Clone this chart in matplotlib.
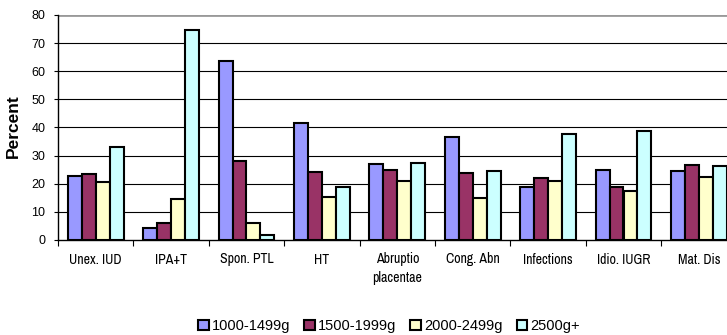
import matplotlib
matplotlib.use("Agg")
import matplotlib.pyplot as plt
import numpy as np

categories = ["Unex. IUD", "IPA+T", "Spon. PTL", "HT", "Abruptio\nplacentae",
              "Cong. Abn", "Infections", "Idio. IUGR", "Mat. Dis"]
series_names = ["1000-1499g", "1500-1999g", "2000-2499g", "2500g+"]
w1000 = [22.9, 4.1, 63.5, 41.7, 27.0, 36.6, 19.0, 24.9, 24.4]
w1500 = [23.5, 6.0, 28.1, 24.1, 24.8, 23.7, 22.2, 18.7, 26.7]
w2000 = [20.5, 14.5, 6.2, 15.3, 20.9, 15.0, 20.9, 17.4, 22.4]
w2500 = [33.1, 74.8, 1.9, 18.7, 27.3, 24.6, 37.7, 38.9, 26.3]
y_ticks = [0, 10, 20, 30, 40, 50, 60, 70, 80]

colors = ["#9999FF", "#993366", "#FFFFCC", "#CCFFFF"]
base_font = "Liberation Sans"
narrow_font = ["Archivo Narrow", "Liberation Sans"]

W, H = 727, 335
fig = plt.figure(figsize=(W / 100, H / 100), dpi=100)
ax = fig.add_axes([58 / W, 1 - 240 / H, (736.6 - 58) / W, 225 / H])

x = np.arange(len(categories))
bw = 0.185
for i, (vals, c, name) in enumerate(zip([w1000, w1500, w2000, w2500], colors, series_names)):
    ax.bar(x + (i - 1.5) * bw, vals, width=bw, color=c, edgecolor="black",
           linewidth=1.5, label=name, zorder=3)

ax.set_xlim(-0.5, len(categories) - 0.5)
ax.set_ylim(0, 80)
ax.set_yticks(y_ticks)
ax.set_yticklabels([str(v) for v in y_ticks], fontsize=9, family=base_font)
ax.set_xticks(np.arange(len(categories) + 1) - 0.5)
ax.set_xticklabels([])
ax.set_xticks(x, minor=True)
ax.set_xticklabels(categories, minor=True, fontsize=10, family=narrow_font, linespacing=1.4)
ax.tick_params(axis="x", which="minor", length=0, pad=9)
ax.tick_params(axis="x", which="major", length=4, direction="out", width=0.8)
ax.tick_params(axis="y", length=3, direction="out", width=0.8, pad=6)

for v in y_ticks[1:-1]:
    ax.axhline(v, color="black", linewidth=0.8, zorder=1)
ax.axhline(80, color="#999999", linewidth=2, zorder=1)

for s in ["top", "right"]:
    ax.spines[s].set_visible(False)
ax.spines["left"].set_linewidth(1)
ax.spines["bottom"].set_linewidth(1)

ax.set_ylabel("Percent", fontsize=12.5, fontweight="bold", family=base_font)
ax.yaxis.set_label_coords((21 - 58) / (736.6 - 58), (240 - 126) / 225)

fig.legend(loc="center", bbox_to_anchor=(389 / W, 1 - 326 / H), ncol=4, frameon=False,
           prop={"family": base_font, "size": 10.5}, handlelength=0.75,
           handleheight=0.75, handletextpad=0.2, columnspacing=0.95, borderpad=0)

fig.savefig("out.png", dpi=100)
